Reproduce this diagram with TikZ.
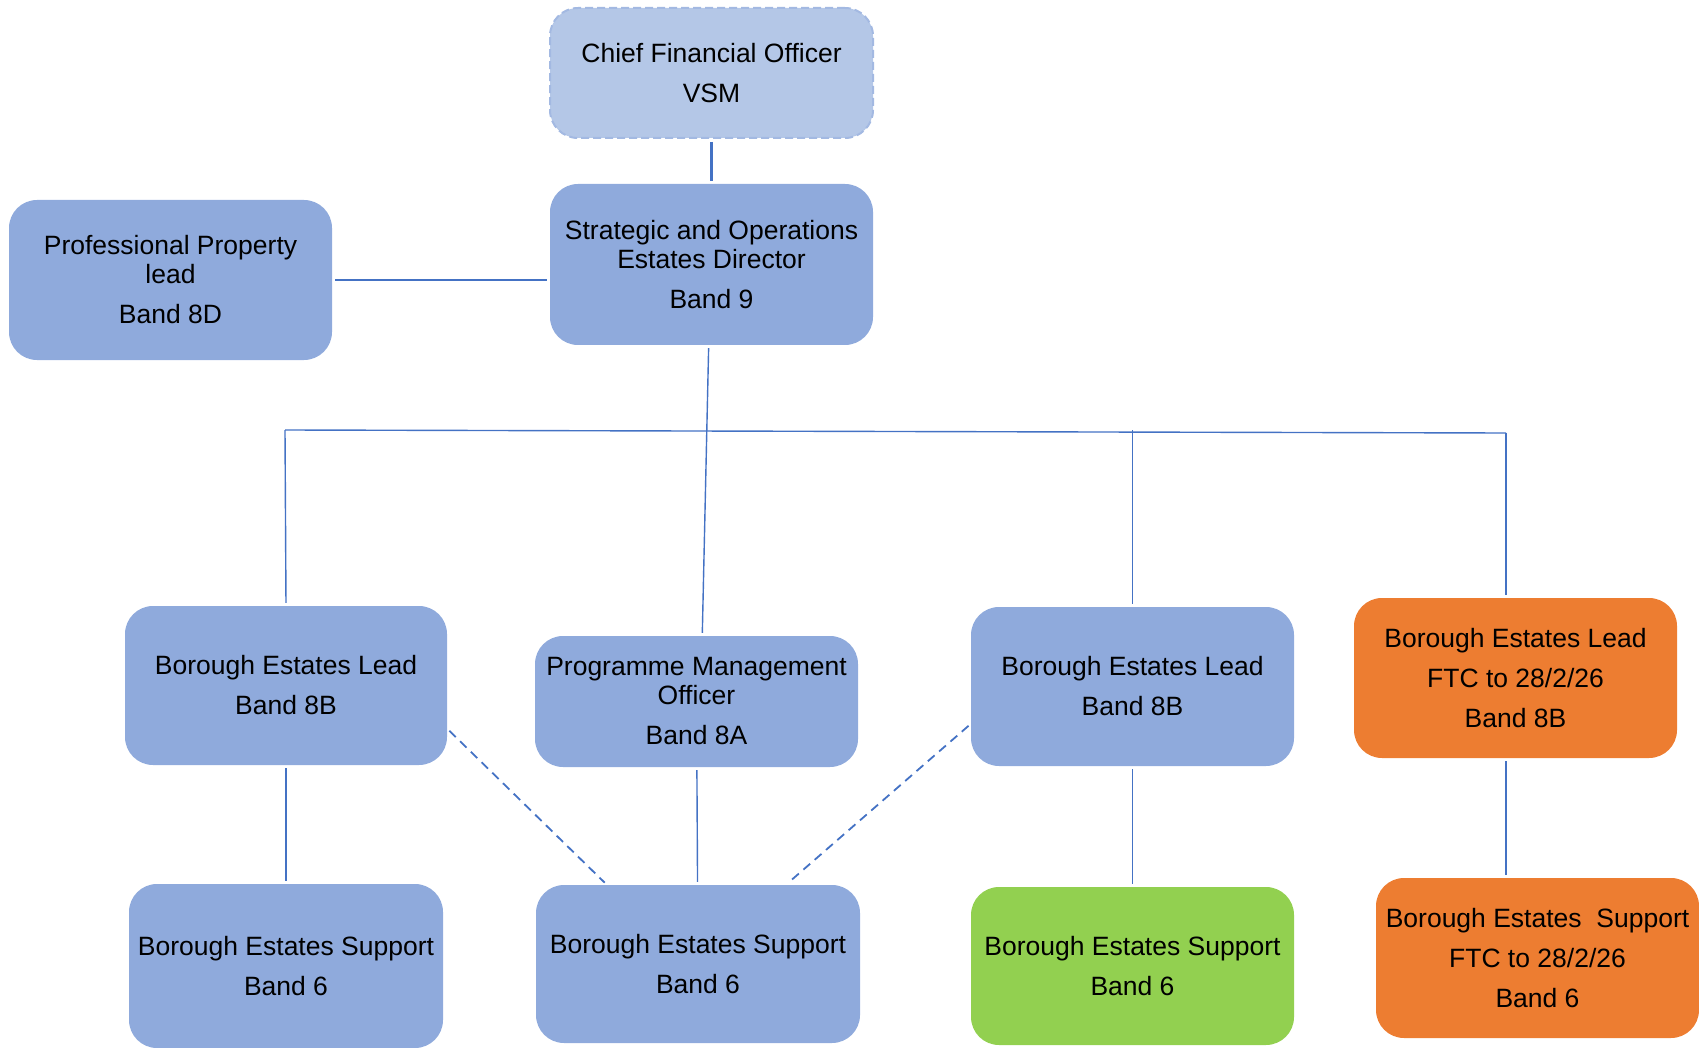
\documentclass[tikz,border=0pt]{standalone}
\usepackage{fontspec}
\setmainfont{Liberation Sans}
\usetikzlibrary{calc}
\definecolor{boxblue}{HTML}{8FAADC}
\definecolor{cfoblue}{HTML}{B4C7E7}
\definecolor{cfoedge}{HTML}{A3B9E2}
\definecolor{ftcorange}{HTML}{ED7D31}
\definecolor{newgreen}{HTML}{92D050}
\definecolor{linkblue}{HTML}{4472C4}

\begin{document}
\begin{tikzpicture}[x=1pt, y=-1pt,
    rolebox/.style={rectangle, rounded corners=28pt, fill=boxblue, align=center, inner sep=0pt,
      minimum width=323pt, minimum height=160pt, font=\fontsize{26.5}{29}\selectfont},
    link/.style={draw=linkblue, line width=1.4pt, shorten <=3pt, shorten >=3pt},
    dashlink/.style={link, line width=1.8pt, dash pattern=on 9pt off 6pt}]
    \useasboundingbox (0,0) rectangle (1699,1048);

    % top of the tree
    \node[rolebox, fill=cfoblue, draw=cfoedge, line width=2pt, dash pattern=on 8pt off 4pt,
      minimum height=130pt] (cfo) at (711.5,73) {Chief Financial Officer\\[11pt]VSM};
    \node[rolebox, minimum height=161pt] (strat) at (711.5,264.5) {Strategic and Operations\\Estates Director\\[11pt]Band 9};
    \node[rolebox] (prof) at (170.5,280) {Professional Property\\lead\\[11pt]Band 8D};

    % leads
    \node[rolebox, minimum width=322pt, minimum height=159pt] (lead1) at (286,685.5) {Borough Estates Lead\\[11pt]Band 8B};
    \node[rolebox, minimum height=131pt] (pmo) at (696.5,701.5) {Programme Management\\Officer\\[11pt]Band 8A};
    \node[rolebox, minimum height=159pt] (lead2) at (1132.5,686.5) {Borough Estates Lead\\[11pt]Band 8B};
    \node[rolebox, fill=ftcorange] (leadftc) at (1515.5,678) {Borough Estates Lead\\[11pt]FTC to 28/2/26\\[11pt]Band 8B};

    % support
    \node[rolebox, minimum width=314pt, minimum height=164pt] (bes1) at (286,966) {Borough Estates Support\\[11pt]Band 6};
    \node[rolebox, minimum width=324pt, minimum height=158pt] (bes2) at (698,964) {Borough Estates Support\\[11pt]Band 6};
    \node[rolebox, fill=newgreen, minimum height=158pt] (besnew) at (1132.5,966) {Borough Estates Support\\[11pt]Band 6};
    \node[rolebox, fill=ftcorange] (besftc) at (1537.5,958) {Borough Estates\ \ Support\\[11pt]FTC to 28/2/26\\[11pt]Band 6};

    % links
    \coordinate (busL) at (285,430);
    \coordinate (busR) at (1506,433);
    \draw[link, line width=3pt] (cfo) -- (strat);
    \draw[link] (prof.east) -- (prof.east -| strat.west);
    \draw[link] (strat.-92) -- (pmo.85);
    \draw[link, shorten <=0pt, shorten >=0pt] (busL) -- (busR);
    \draw[link, shorten <=0pt] (busL) -- (lead1.north);
    \draw[link, shorten <=0pt] (lead2.north |- busL) -- (lead2.north);
    \draw[link, shorten <=0pt] (busR) -- (busR |- leadftc.north);

    \draw[link] (lead1) -- (bes1);
    \draw[link] (pmo) -- (bes2);
    \draw[link] (lead2) -- (besnew);
    \draw[link] (busR |- leadftc.south) -- (busR |- besftc.north);
    \draw[dashlink] (lead1.-15) -- (bes2.139);
    \draw[dashlink] (lead2.193) -- (bes2.42);
\end{tikzpicture}
\end{document}
